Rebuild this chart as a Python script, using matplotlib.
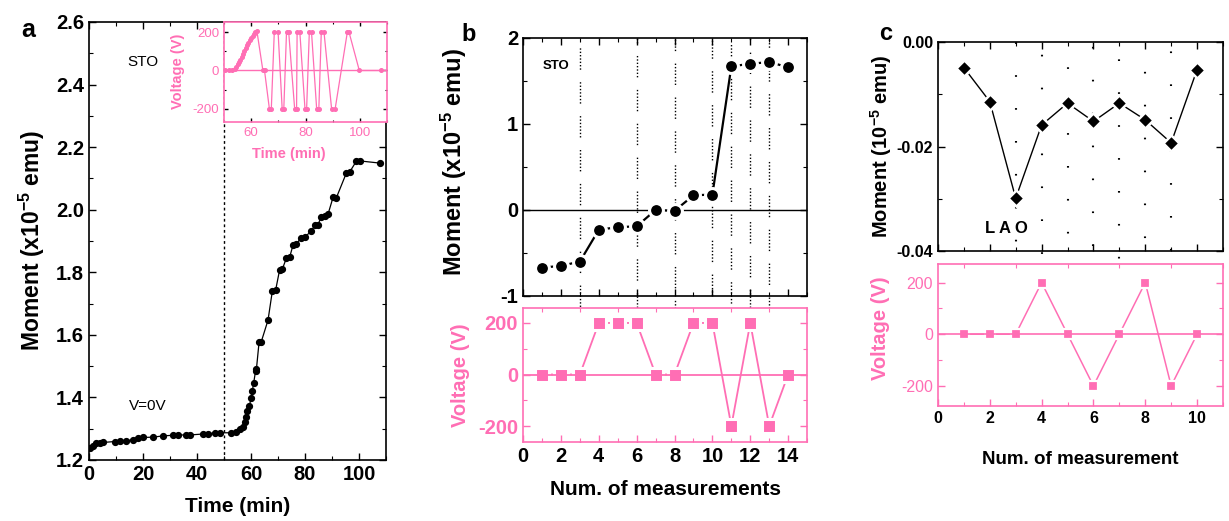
import matplotlib
matplotlib.use("Agg")
import matplotlib.pyplot as plt
from matplotlib.ticker import MultipleLocator

plt.rcParams['font.family'] = ['Liberation Sans', 'DejaVu Sans']
plt.rcParams['axes.unicode_minus'] = False
plt.rcParams['mathtext.fontset'] = 'custom'
plt.rcParams['mathtext.rm'] = 'Liberation Sans'
plt.rcParams['mathtext.bf'] = 'Liberation Sans:bold'
plt.rcParams['mathtext.default'] = 'bf'
plt.rcParams['xtick.direction'] = 'in'
plt.rcParams['ytick.direction'] = 'in'
plt.rcParams['xtick.top'] = True
plt.rcParams['ytick.right'] = True

PINK = '#FF6EB4'

# ---- panel a: moment vs time (STO)
time_a = [0.5, 1.5, 2.7, 4.0, 5.2, 9.5, 11.4, 13.8, 16.3, 18.1, 20.0, 23.7, 27.4,
          31.1, 33.0, 36.0, 37.3, 42.2, 44.1, 46.5, 48.4, 52.7, 54.6, 55.8, 57.0,
          57.7, 58.3, 58.5, 59.3, 60.1, 60.5, 61.0, 61.7, 62.0, 63.0, 63.8, 66.3,
          67.9, 69.1, 70.6, 71.6, 73.1, 74.3, 75.6, 76.8, 78.6, 79.9, 82.3, 83.6,
          84.8, 86.0, 87.3, 88.5, 90.4, 91.6, 95.3, 96.5, 99.0, 100.2, 107.7]
moment_a = [1.237, 1.245, 1.253, 1.255, 1.256, 1.259, 1.261, 1.262, 1.264, 1.269,
            1.272, 1.273, 1.277, 1.279, 1.280, 1.280, 1.280, 1.283, 1.283, 1.287,
            1.287, 1.287, 1.290, 1.298, 1.306, 1.322, 1.338, 1.357, 1.372, 1.397,
            1.421, 1.447, 1.485, 1.490, 1.578, 1.578, 1.647, 1.740, 1.742, 1.808,
            1.810, 1.845, 1.848, 1.888, 1.890, 1.911, 1.913, 1.931, 1.950, 1.952,
            1.977, 1.980, 1.985, 2.040, 2.038, 2.117, 2.120, 2.155, 2.156, 2.149]

# inset: applied voltage vs time
time_v = [50.5, 52.0, 53.0, 54.0, 54.5, 55.0, 55.5, 56.0, 56.5, 57.0, 57.5, 58.0,
          58.5, 59.0, 59.5, 60.0, 60.5, 61.0, 61.5, 62.1, 64.3, 64.9, 66.7, 67.4,
          68.5, 69.9, 71.4, 72.0, 73.0, 73.8, 76.0, 76.7, 76.9, 77.9, 79.8, 80.4,
          81.4, 82.2, 84.1, 84.9, 85.8, 86.8, 89.6, 90.9, 95.4, 96.0, 99.8, 107.8]
volt_v = [0, 0, 0, 10, 20, 35, 45, 55, 70, 85, 100, 115, 130, 145, 160, 170, 180,
          190, 200, 205, 0, 0, -200, -200, 200, 200, -200, -200, 200, 200, -200,
          -200, 200, 200, -200, -200, 200, 200, -200, -200, 200, 200, -200, -200,
          200, 200, 0, 0]

# ---- panel b: STO, per measurement
meas_b = [1, 2, 3, 4, 5, 6, 7, 8, 9, 10, 11, 12, 13, 14]
moment_b = [-0.67, -0.65, -0.60, -0.23, -0.20, -0.19, 0.0, -0.01, 0.17, 0.18,
            1.67, 1.70, 1.72, 1.66]
volt_b = [0, 0, 0, 200, 200, 200, 0, 0, 200, 200, -200, 200, -200, 0]
guides_b = [3, 6, 8, 10, 11, 12, 13]

# ---- panel c: LAO, per measurement
meas_c = [1, 2, 3, 4, 5, 6, 7, 8, 9, 10]
moment_c = [-0.0049, -0.0114, -0.0299, -0.0159, -0.0117, -0.0152, -0.0117,
            -0.0149, -0.0193, -0.0053]
volt_c = [0, 0, 0, 200, 0, -200, 0, 200, -200, 0]
guides_c = [3, 4, 5, 6, 7, 8, 9]

fig = plt.figure(figsize=(12.29, 5.21), dpi=100)


def style_ticks(ax, size, color='black', weight='bold', length=5):
    ax.tick_params(which='major', length=length, width=1, labelsize=size,
                   labelcolor=color)
    ax.tick_params(which='minor', length=length * 0.6, width=0.8)
    for lab in ax.get_xticklabels() + ax.get_yticklabels():
        lab.set_fontweight(weight)


def pink_axes(ax):
    for s in ax.spines.values():
        s.set_color(PINK)
        s.set_linewidth(1.2)
    ax.tick_params(which='both', color=PINK)


# ================= a
ax = fig.add_axes([0.0724, 0.1171, 0.2417, 0.8407])
ax.plot(time_a, moment_a, color='black', lw=0.9, marker='o', ms=4.2, zorder=3)
ax.axvline(50, color='black', ls=(0, (2, 2)), lw=1.0)
ax.set_xlim(0, 110)
ax.set_ylim(1.2, 2.6)
ax.xaxis.set_major_locator(MultipleLocator(20))
ax.xaxis.set_minor_locator(MultipleLocator(10))
ax.yaxis.set_minor_locator(MultipleLocator(0.1))
ax.set_yticks([1.2, 1.4, 1.6, 1.8, 2.0, 2.2, 2.4, 2.6])
ax.set_yticklabels(['1.2', '1.4', '1.6', '1.8', '2.0', '2.2', '2.4', '2.6'])
style_ticks(ax, 14.5)
for s in ax.spines.values():
    s.set_linewidth(1.2)
ax.set_xlabel('Time (min)', fontsize=15, fontweight='bold')
ax.xaxis.set_label_coords(0.5, -0.085)
ax.set_ylabel('Moment (x10$^{-5}$ emu)', fontsize=16.5, fontweight='bold')
ax.yaxis.set_label_coords(-0.142, 0.5)
ax.text(0.13, 0.9, 'STO', transform=ax.transAxes, fontsize=11)
ax.text(0.135, 0.115, 'V=0V', transform=ax.transAxes, fontsize=11)
fig.text(0.023, 0.943, 'a', fontsize=18, fontweight='bold', va='center', ha='center')

ins = fig.add_axes([0.1823, 0.7658, 0.1326, 0.1919])
ins.plot(time_v, volt_v, color=PINK, lw=0.9, marker='o', ms=2.6, zorder=3)
ins.axhline(0, color=PINK, lw=1.0)
ins.set_xlim(50, 110)
ins.set_ylim(-268, 252)
ins.xaxis.set_minor_locator(MultipleLocator(10))
ins.set_xticks([60, 80, 100])
ins.yaxis.set_major_locator(MultipleLocator(200))
ins.yaxis.set_minor_locator(MultipleLocator(100))
pink_axes(ins)
style_ticks(ins, 9.5, color=PINK, weight='normal', length=3)
ins.tick_params(which='both', color='black')
ins.set_xlabel('Time (min)', fontsize=10.5, color=PINK, fontweight='bold')
ins.xaxis.set_label_coords(0.4, -0.25)
ins.set_ylabel('Voltage (V)', fontsize=10.5, color=PINK, fontweight='bold')
ins.yaxis.set_label_coords(-0.24, 0.51)

# ================= b
bt = fig.add_axes([0.4256, 0.4319, 0.2311, 0.4952])
bb = fig.add_axes([0.4256, 0.1516, 0.2311, 0.2572])
bt.plot(meas_b, moment_b, color='black', lw=1.6, marker='o', ms=10,
        mfc='black', mec='white', mew=2.2, zorder=3)
bt.axhline(0, color='black', lw=1.0, zorder=2)
bt.set_xlim(0, 15)
bt.set_ylim(-1, 2)
bt.xaxis.set_major_locator(MultipleLocator(2))
bt.xaxis.set_minor_locator(MultipleLocator(1))
bt.yaxis.set_major_locator(MultipleLocator(1))
bt.yaxis.set_minor_locator(MultipleLocator(0.5))
bt.set_xticklabels([])
style_ticks(bt, 14.5)
for s in bt.spines.values():
    s.set_linewidth(1.2)
bt.set_ylabel('Moment (x10$^{-5}$ emu)', fontsize=17, fontweight='bold')
bt.yaxis.set_label_coords(-0.19, 0.52)
bt.text(0.07, 0.88, 'STO', transform=bt.transAxes, fontsize=9.5, fontweight='bold')
fig.text(0.381, 0.933, 'b', fontsize=17, fontweight='bold', va='center', ha='center')

dots_b = [1, 1.4] * 7
dots_b[-1] = 9
for i, g in enumerate(guides_b):
    bt.axvline(g, ymin=-0.566, ymax=1, color='black', lw=1.0, clip_on=False,
               ls=(i * 5.5, tuple(dots_b)), zorder=1)

bb.plot(meas_b, volt_b, color=PINK, lw=1.3, marker='s', ms=9.5,
        mfc=PINK, mec='white', mew=2.2, zorder=3)
bb.axhline(0, color=PINK, lw=1.3, zorder=4)
bb.set_xlim(0, 15)
bb.set_ylim(-262, 258)
bb.xaxis.set_major_locator(MultipleLocator(2))
bb.xaxis.set_minor_locator(MultipleLocator(1))
bb.yaxis.set_major_locator(MultipleLocator(200))
bb.yaxis.set_minor_locator(MultipleLocator(100))
bb.tick_params(top=False)
pink_axes(bb)
style_ticks(bb, 14.5)
bb.tick_params(axis='y', labelcolor=PINK)
bb.set_xlabel('Num. of measurements', fontsize=15, fontweight='bold')
bb.xaxis.set_label_coords(0.5, -0.28)
bb.set_ylabel('Voltage (V)', fontsize=14.5, fontweight='bold', color=PINK)
bb.yaxis.set_label_coords(-0.187, 0.5)

# ================= c
ct = fig.add_axes([0.7632, 0.5182, 0.2319, 0.4012])
cb = fig.add_axes([0.7632, 0.2207, 0.2319, 0.2726])
ct.plot(meas_c, moment_c, color='black', lw=1.0, marker='D', ms=8,
        mfc='black', mec='white', mew=1.8, zorder=3)
ct.set_xlim(0, 11)
ct.set_ylim(-0.04, 0.0)
ct.xaxis.set_major_locator(MultipleLocator(2))
ct.xaxis.set_minor_locator(MultipleLocator(1))
ct.yaxis.set_minor_locator(MultipleLocator(0.01))
ct.set_yticks([-0.04, -0.02, 0.0])
ct.set_yticklabels(['-0.04', '-0.02', '0.00'])
ct.set_xticklabels([])
style_ticks(ct, 11.5)
for s in ct.spines.values():
    s.set_linewidth(1.2)
ct.set_ylabel('Moment (10$^{-5}$ emu)', fontsize=14.5, fontweight='bold')
ct.yaxis.set_label_coords(-0.155, 0.5)
ct.text(0.165, 0.085, 'L A O', transform=ct.transAxes, fontsize=12, fontweight='bold')
fig.text(0.721, 0.935, 'c', fontsize=17, fontweight='bold', va='center', ha='center')

for i, g in enumerate(guides_c):
    ct.axvline(g, ymin=-0.74, ymax=1, color='black', lw=1.5, clip_on=False,
               ls=(i * 6.0, (0.8, 15)), zorder=1)

cb.plot(meas_c, volt_c, color=PINK, lw=1.1, marker='s', ms=7,
        mfc=PINK, mec='white', mew=1.6, zorder=3)
cb.axhline(0, color=PINK, lw=1.2, zorder=4)
cb.set_xlim(0, 11)
cb.set_ylim(-278, 272)
cb.xaxis.set_major_locator(MultipleLocator(2))
cb.xaxis.set_minor_locator(MultipleLocator(1))
cb.yaxis.set_major_locator(MultipleLocator(200))
cb.yaxis.set_minor_locator(MultipleLocator(100))
cb.tick_params(top=False)
pink_axes(cb)
style_ticks(cb, 11.5)
cb.tick_params(axis='y', labelcolor=PINK)
for lab in cb.get_yticklabels():
    lab.set_fontweight('normal')
cb.set_xlabel('Num. of measurement', fontsize=13.5, fontweight='bold')
cb.xaxis.set_label_coords(0.5, -0.32)
cb.set_ylabel('Voltage (V)', fontsize=14.5, fontweight='bold', color=PINK)
cb.yaxis.set_label_coords(-0.168, 0.55)

fig.savefig('out.png', dpi=100)
